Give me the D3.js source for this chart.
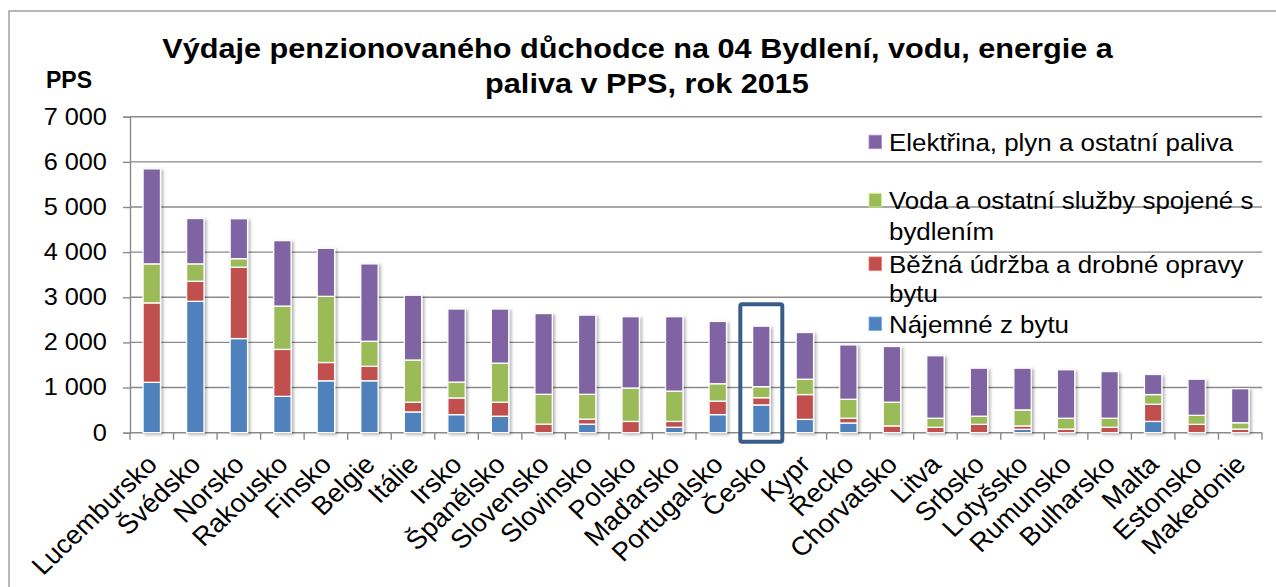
<!DOCTYPE html>
<html>
<head>
<meta charset="utf-8">
<script src="https://cdn.jsdelivr.net/npm/d3@7"></script>
<style>
  html, body { margin: 0; padding: 0; background: #fff; }
  svg { display: block; }
  text { font-family: "Liberation Sans", Arial, sans-serif; fill: #000; }
</style>
</head>
<body>
<svg id="chart" width="1276" height="587"></svg>
<script>
// ---- data ----
const categories = ["Lucembursko","Švédsko","Norsko","Rakousko","Finsko","Belgie","Itálie","Irsko","Španělsko","Slovensko","Slovinsko","Polsko","Maďarsko","Portugalsko","Česko","Kypr","Řecko","Chorvatsko","Litva","Srbsko","Lotyšsko","Rumunsko","Bulharsko","Malta","Estonsko","Makedonie"];
const najemne   = [1115, 2910, 2085,  805, 1150, 1150,  460,  400,  365,    0,  190,    0,  120,  400,  615,  295,  215,    0,    0,    0,   75,    0,    0,  250,    0,    0];
const udrzba    = [1760,  445, 1580, 1040,  405,  320,  215,  370,  310,  190,  110,  250,  130,  300,  160,  550,  105,  150,  120,  185,   75,   80,  120,  380,  185,   80];
const voda      = [ 865,  385,  190,  960, 1465,  555,  935,  350,  865,  660,  550,  740,  670,  385,  245,  340,  420,  525,  200,  180,  355,  240,  200,  215,  200,  140];
const elektrina = [2105, 1005,  885, 1450, 1065, 1715, 1435, 1620, 1200, 1790, 1755, 1580, 1650, 1380, 1340, 1035, 1205, 1235, 1385, 1065,  925, 1075, 1035,  445,  800,  755];
const seriesNames = ["Nájemné z bytu", "Běžná údržba a drobné opravy bytu", "Voda a ostatní služby spojené s bydlením", "Elektřina, plyn a ostatní paliva"];
const seriesColors = ["#4F81BD", "#C0504D", "#9BBB59", "#8064A2"];
const yTicks = [0, 1000, 2000, 3000, 4000, 5000, 6000, 7000];
const titleLines = ["Výdaje penzionovaného důchodce na 04 Bydlení, vodu, energie a", "paliva v PPS, rok 2015"];
const yUnit = "PPS";
const highlighted = "Česko";
// legend entries (top to bottom) with wrapped lines
const legendOrder = [3, 2, 1, 0];
const legendLines = [
  ["Elektřina, plyn a ostatní paliva"],
  ["Voda a ostatní služby spojené s", "bydlením"],
  ["Běžná údržba a drobné opravy", "bytu"],
  ["Nájemné z bytu"]
];

// ---- build ----
const keys = ["najemne","udrzba","voda","elektrina"];
const table = categories.map((c, i) => ({cat: c, najemne: najemne[i], udrzba: udrzba[i], voda: voda[i], elektrina: elektrina[i]}));
const stacked = d3.stack().keys(keys)(table);

const svg = d3.select("#chart");
const FONT = "\"Liberation Sans\", Arial, sans-serif";
const SX = 1.1;

const x = d3.scaleBand().domain(categories).range([130, 1262]).paddingInner(0.6).paddingOuter(0.3);
const y = d3.scaleLinear().domain([0, 7000]).range([432.7, 116.7]);

const defs = svg.append("defs");
const f = defs.append("filter").attr("id", "shadow").attr("x", "-30%").attr("y", "-10%").attr("width", "160%").attr("height", "130%");
f.append("feDropShadow").attr("dx", 2).attr("dy", 1.5).attr("stdDeviation", 1.5).attr("flood-color", "#000").attr("flood-opacity", 0.3);

// outer frame
svg.append("rect").attr("x", 9).attr("y", 11).attr("width", 1400).attr("height", 800)
  .attr("fill", "none").attr("stroke", "#a0a0a0").attr("stroke-width", 1.5);

// gridlines
svg.append("g").selectAll("line").data(yTicks.filter(d => d > 0)).join("line")
  .attr("x1", 130).attr("x2", 1262)
  .attr("y1", d => y(d)).attr("y2", d => y(d))
  .attr("stroke", "#8a8a8a").attr("stroke-width", 1.4);

// y axis
const yAxis = svg.append("g").attr("transform", "translate(130,0)")
  .call(d3.axisLeft(y).tickValues(yTicks).tickSize(7).tickPadding(14)
    .tickFormat(d => d3.format(",")(d).replace(/,/g, " ")));
yAxis.select(".domain").attr("stroke", "#8a8a8a").attr("stroke-width", 1.4);
yAxis.selectAll(".tick line").attr("stroke", "#8a8a8a").attr("stroke-width", 1.4);
yAxis.selectAll(".tick text").attr("font-family", FONT).attr("font-size", 23).attr("fill", "#000")
  .attr("transform", `scale(${SX},1)`);

// x axis line & ticks at category boundaries
const step = x.step();
const bounds = d3.range(categories.length + 1).map(i => x.range()[0] + i * step);
svg.append("line").attr("x1", 130).attr("x2", 1262).attr("y1", y(0)).attr("y2", y(0))
  .attr("stroke", "#8a8a8a").attr("stroke-width", 1.4);
svg.append("g").selectAll("line").data(bounds).join("line")
  .attr("x1", d => d).attr("x2", d => d).attr("y1", y(0)).attr("y2", y(0) + 7)
  .attr("stroke", "#8a8a8a").attr("stroke-width", 1.4);

// bars
const barsG = svg.append("g").attr("filter", "url(#shadow)");
stacked.forEach((s, si) => {
  barsG.append("g").attr("fill", seriesColors[si])
    .selectAll("rect").data(s.filter(d => d[1] - d[0] > 0)).join("rect")
    .attr("x", d => x(d.data.cat))
    .attr("width", x.bandwidth())
    .attr("y", d => y(d[1]))
    .attr("height", d => y(d[0]) - y(d[1]))
    .attr("stroke", "#fff").attr("stroke-width", 1.3);
});

// x labels
svg.append("g").selectAll("g").data(categories).join("g")
  .attr("transform", d => `translate(${x(d) + x.bandwidth() / 2 + 7},466) scale(1.05,1) rotate(-45)`)
  .append("text").attr("text-anchor", "end").attr("font-size", 26).text(d => d);

// highlight box
const hi = categories.indexOf(highlighted);
const hiTotal = najemne[hi] + udrzba[hi] + voda[hi] + elektrina[hi];
const hcx = x(highlighted) + x.bandwidth() / 2;
svg.append("rect")
  .attr("x", hcx - 21).attr("width", 42)
  .attr("y", y(hiTotal) - 22).attr("height", (y(0) + 9) - (y(hiTotal) - 22))
  .attr("rx", 2).attr("fill", "none").attr("stroke", "#385D8A").attr("stroke-width", 4);

// title
svg.append("g").attr("transform", `translate(637.5,58.3) scale(1.095,1)`)
  .append("text").attr("text-anchor", "middle").attr("font-size", 28).attr("font-weight", "bold").text(titleLines[0]);
svg.append("g").attr("transform", `translate(647,93.3) scale(1.095,1)`)
  .append("text").attr("text-anchor", "middle").attr("font-size", 28).attr("font-weight", "bold").text(titleLines[1]);

// unit label
svg.append("text").attr("x", 46).attr("y", 88.3).attr("font-size", 23).attr("font-weight", "bold").text(yUnit);

// legend
const legendBaselines = [[150.7], [209, 239.5], [272.5, 301.5], [332.5]];
const lg = svg.append("g");
legendOrder.forEach((si, k) => {
  const b0 = legendBaselines[k][0];
  lg.append("rect").attr("x", 869).attr("y", b0 - 15.5).attr("width", 12.5).attr("height", 13.5)
    .attr("fill", seriesColors[si]).attr("stroke", d3.color(seriesColors[si]).brighter(0.8)).attr("stroke-width", 0.8);
  legendLines[k].forEach((t, li) => {
    lg.append("g").attr("transform", `translate(889,${legendBaselines[k][li]}) scale(1.08,1)`)
      .append("text").attr("font-size", 24).text(t);
  });
});
</script>
</body>
</html>
